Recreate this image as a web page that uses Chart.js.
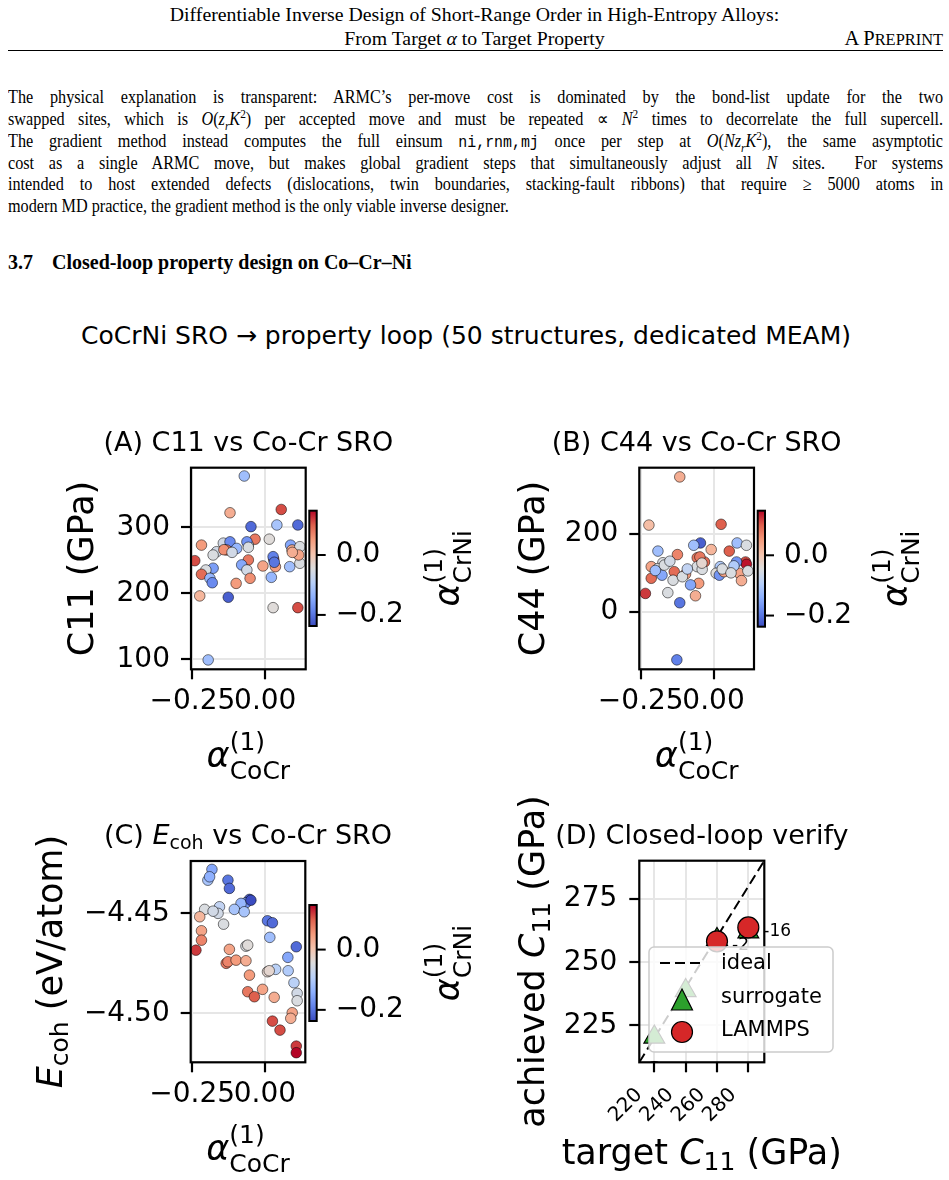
<!DOCTYPE html>
<html lang="en">
<head>
<meta charset="UTF-8">
<title>CoCrNi SRO property loop</title>
<script src="https://cdn.jsdelivr.net/npm/chart.js"></script>
<style>
  body { margin: 0; background: #fff; width: 949px; height: 1180px; position: relative; overflow: hidden; }
  .txt { position: absolute; font-family: "Liberation Serif", "Times New Roman", serif; font-size: 17.5px; line-height: 22px; white-space: pre; color: #000; }
  .txt sub, .txt sup { font-size: 0.7em; line-height: 0; }
  .body { font-size: 18px; transform: scaleX(0.9); transform-origin: 0 0; }
  .head { font-size: 19.8px; }
  .mono { font-family: "Liberation Mono", monospace; font-size: 0.92em; }
  .fig { position: absolute; font-family: "DejaVu Sans", sans-serif; color: #000; white-space: pre; }
  canvas { position: absolute; }
</style>
</head>
<body>

<div class="txt head" style="left:0;width:949px;text-align:center;top:3px">Differentiable Inverse Design of Short-Range Order in High-Entropy Alloys:</div>
<div class="txt head" style="left:0;width:949px;text-align:center;top:27px">From Target <i>α</i> to Target Property</div>
<div class="txt" style="right:6px;top:27px;font-size:20.5px">A P<span style="font-size:0.8em">REPRINT</span></div>
<div style="position:absolute;left:8px;width:935px;top:50px;height:1px;background:#000"></div>

<div class="txt body just" style="left:8px;top:86px">The physical explanation is transparent: ARMC’s per-move cost is dominated by the bond-list update for the two</div>
<div class="txt body just" style="left:8px;top:108px">swapped sites, which is <i>O</i>(<i>z</i><sub><i>r</i></sub><i>K</i><sup>2</sup>) per accepted move and must be repeated ∝ <i>N</i><sup>2</sup> times to decorrelate the full supercell.</div>
<div class="txt body just" style="left:8px;top:130px">The gradient method instead computes the full einsum <span class="mono">ni,rnm,mj</span> once per step at <i>O</i>(<i>Nz</i><sub><i>r</i></sub><i>K</i><sup>2</sup>), the same asymptotic</div>
<div class="txt body just" style="left:8px;top:152px">cost as a single ARMC move, but makes global gradient steps that simultaneously adjust all <i>N</i> sites.  For systems</div>
<div class="txt body just" style="left:8px;top:173px">intended to host extended defects (dislocations, twin boundaries, stacking-fault ribbons) that require ≥ 5000 atoms in</div>
<div class="txt body" style="left:8px;top:195px">modern MD practice, the gradient method is the only viable inverse designer.</div>

<div class="txt" style="left:8px;top:251px;font-weight:bold;font-size:20px">3.7</div>
<div class="txt" style="left:52px;top:251px;font-weight:bold;font-size:20px">Closed-loop property design on Co–Cr–Ni</div>

<div class="fig" style="left:0;width:932px;text-align:center;top:321px;font-size:25px;line-height:30px">CoCrNi SRO → property loop (50 structures, dedicated MEAM)</div>

<canvas id="cA"></canvas>
<canvas id="cB"></canvas>
<canvas id="cC"></canvas>
<canvas id="cD"></canvas>

<script>
    // justify the (horizontally condensed) paragraph lines to the text block width
    const squeeze = 0.9;
    document.querySelectorAll('.just').forEach(el => {
        const w = el.getBoundingClientRect().width;
        const spaces = (el.textContent.match(/ /g) || []).length;
        el.style.wordSpacing = ((935 - w) / squeeze / spaces) + 'px';
    });

    // ---- data ----
    // (A) C11 vs alpha_CoCr, colour = alpha_CrNi
    const alphaCoCrA = [-0.072, -0.121, 0.055, 0.040, 0.112, -0.049, -0.035, 0.014, -0.219, -0.144,
        -0.121, -0.098, -0.133, -0.167, -0.179, -0.058, -0.063, 0.087, 0.092, 0.110,
        0.119, -0.242, 0.029, 0.027, -0.058, -0.081, -0.063, -0.008, 0.035, 0.084,
        0.119, -0.179, -0.204, -0.219, -0.190, -0.182, -0.100, -0.052, 0.021, -0.225,
        -0.127, 0.027, 0.112, -0.196, 0.115, -0.058, -0.142, 0.093, 0.031, -0.114];
    const c11A = [377.7, 322, 327, 303.5, 303.5, 301, 282, 282, 273, 276,
        278, 268, 265.6, 263, 258, 273, 278, 273, 265.6, 260.6,
        270.6, 249.4, 251.5, 255.5, 250.5, 243, 235.3, 241.4, 240.3, 240.3,
        245.5, 238, 235.3, 228.8, 222.7, 216, 215, 222.7, 224.2, 196,
        194, 178.2, 178.2, 99, 258, 269.7, 266, 262, 247, 262];
    const alphaCrNiA = [-0.12, 0.03, 0.11, -0.11, -0.21, -0.21, 0.08, -0.04, 0.05, -0.06,
        -0.18, -0.13, 0.08, -0.06, -0.05, -0.06, -0.17, -0.15, 0.03, 0.13,
        -0.05, 0.11, 0.10, -0.19, 0.08, -0.15, -0.06, 0.04, 0.05, -0.12,
        -0.05, -0.16, -0.05, 0.09, -0.13, -0.18, 0.05, 0.06, -0.13, 0.02,
        -0.22, -0.04, 0.11, -0.12, 0.04, -0.05, 0.06, 0.03, -0.20, -0.06];

    // (B) C44 vs alpha_CoCr
    const alphaCoCrB = [-0.116, -0.222, 0.026, -0.191, -0.045, -0.068, -0.008, 0.054, 0.081, 0.113,
        -0.124, -0.056, -0.031, -0.174, -0.214, -0.191, 0.110, 0.113, 0.079, 0.023,
        -0.056, -0.214, -0.177, -0.135, -0.096, -0.139, -0.051, -0.079, -0.062, -0.157,
        -0.234, -0.116, -0.126, 0.009, 0.020, 0.036, 0.088, 0.096, 0.118, -0.039,
        -0.047, -0.169, -0.107, 0.030, -0.200, -0.090, 0.070, -0.040, 0.060, -0.150];
    const c44B = [347, 223, 225, 156, 177, 171, 160, 156, 177, 171,
        147, 139, 128, 126, 116, 111, 128, 122, 128, 116,
        116, 86, 94, 103, 97, 81, 73, 69, 41, 49,
        47, 23, -124, 99, 94, 103, 99, 80, 105, 109,
        141, 120, 90, 110, 106, 110, 118, 125, 100, 130];
    const alphaCrNiB = [0.03, 0.01, 0.10, -0.12, -0.22, -0.12, 0.02, 0.10, -0.12, -0.05,
        0.07, 0.08, 0.09, -0.05, 0.04, -0.05, 0.11, 0.14, -0.17, -0.10,
        -0.05, 0.09, -0.15, 0.09, 0.05, -0.05, 0.05, -0.15, 0.03, -0.05,
        0.12, -0.20, -0.19, -0.04, -0.17, 0.04, 0.04, 0.03, -0.05, -0.05,
        0.08, -0.05, -0.05, -0.05, -0.12, -0.08, -0.10, -0.03, -0.05, -0.06];

    // (C) E_coh vs alpha_CoCr
    const alphaCoCrC = [-0.182, -0.196, -0.190, -0.127, -0.122, -0.053, -0.065, -0.082, -0.105, -0.071,
        -0.207, -0.156, -0.161, -0.142, -0.224, 0.009, 0.026, 0.017, 0.108, -0.218,
        -0.218, -0.237, -0.065, -0.059, -0.122, -0.133, -0.127, -0.099, -0.065, -0.053,
        0.009, 0.037, 0.079, 0.080, 0.100, 0.111, 0.111, -0.059, -0.036, -0.008,
        0.032, 0.094, 0.089, 0.026, 0.052, 0.108, 0.108, -0.178, -0.048, 0.015];
    const ecohC = [-4.4280, -4.4334, -4.4317, -4.4334, -4.4375, -4.4430, -4.4447, -4.4450, -4.4480, -4.4492,
        -4.4480, -4.4467, -4.4500, -4.4554, -4.4517, -4.4537, -4.4547, -4.4620, -4.4667, -4.4587,
        -4.4634, -4.4684, -4.4664, -4.4659, -4.4680, -4.4750, -4.4742, -4.4734, -4.4737, -4.4809,
        -4.4792, -4.4780, -4.4720, -4.4787, -4.4847, -4.4900, -4.4937, -4.4892, -4.4917, -4.4880,
        -4.4920, -4.4997, -4.5025, -4.5039, -4.5084, -4.5164, -4.5197, -4.4489, -4.4434, -4.4787];
    const alphaCrNiC = [-0.15, -0.11, -0.14, -0.20, -0.21, -0.22, -0.17, -0.13, -0.11, -0.11,
        -0.05, -0.08, -0.06, -0.05, 0.02, -0.20, -0.21, -0.12, -0.21, 0.04,
        0.07, 0.12, -0.05, -0.04, 0.04, 0.08, 0.07, 0.05, 0.03, 0.05,
        -0.03, -0.09, -0.15, -0.10, -0.09, -0.06, -0.05, 0.08, 0.10, 0.04,
        0.03, 0.04, 0.03, 0.11, 0.11, 0.12, 0.148, -0.06, -0.237, -0.03];

    // (D) closed-loop verification
    const targetD = [220, 240, 260, 280];
    const surrogateD = [220.4, 238.8, 259, 262];
    const lammpsD = [206.5, 195, 258.3, 263.8];

    // axes
    const xLimSRO = [-0.255, 0.139];
    const xTicksSRO = [-0.25, 0];
    const yLimA = [84.8, 390.3], yTicksA = [100, 200, 300];
    const yLimB = [-148.3, 370.7], yTicksB = [0, 200];
    const yLimC = [-4.5245, -4.4238], yTicksC = [-4.50, -4.45];
    const limD = [210.4, 290.2];
    const ticksDx = [220, 240, 260, 280], ticksDy = [225, 250, 275];
    const cbarRange = [-0.237, 0.148], cbarTicks = [-0.2, 0.0];

    const coolwarmStops = [[59, 76, 192], [98, 130, 234], [141, 176, 254], [184, 208, 249], [221, 221, 221],
        [245, 196, 173], [244, 154, 123], [222, 96, 77], [180, 4, 38]];

    function coolwarm(v) {
        let t = (v - cbarRange[0]) / (cbarRange[1] - cbarRange[0]);
        t = Math.min(1, Math.max(0, t)) * (coolwarmStops.length - 1);
        const i = Math.min(Math.floor(t), coolwarmStops.length - 2), f = t - i;
        const a = coolwarmStops[i], b = coolwarmStops[i + 1];
        return 'rgb(' + a.map((c, k) => Math.round(c + (b[k] - c) * f)).join(',') + ')';
    }

    function signed(v, d) {
        return (v < 0 ? '\u2212' : '') + Math.abs(v).toFixed(d);
    }

    const FONT = '"DejaVu Sans"';

    // parts: [text, size, italic, dy, sameStartAsPrevious]
    function drawRich(ctx, parts, cx, by) {
        let x = 0, prev = 0;
        const items = [];
        parts.forEach(([s, size, it, dy, same]) => {
            ctx.font = (it ? 'italic ' : '') + size + 'px ' + FONT;
            const start = same ? prev : x;
            items.push([s, ctx.font, start, dy || 0]);
            x = Math.max(x, start + ctx.measureText(s).width);
            prev = start;
        });
        ctx.textAlign = 'left';
        ctx.textBaseline = 'alphabetic';
        ctx.fillStyle = '#000';
        items.forEach(([s, font, start, dy]) => {
            ctx.font = font;
            ctx.fillText(s, cx - x / 2 + start, by + dy);
        });
    }

    function drawRot(ctx, parts, x, y) {
        ctx.save();
        ctx.translate(x, y);
        ctx.rotate(-Math.PI / 2);
        drawRich(ctx, parts, 0, 0);
        ctx.restore();
    }

    const alphaParts = sub => [['α', 35, true, 0], ['(1)', 25, false, -17], [sub, 25, false, 12, true]];

    function drawColorbar(ctx, cb, ox, oy) {
        const l = cb[0] - ox, t = cb[1] - oy, r = cb[2] - ox, b = cb[3] - oy;
        const g = ctx.createLinearGradient(0, b, 0, t);
        coolwarmStops.forEach((c, i) => g.addColorStop(i / (coolwarmStops.length - 1), 'rgb(' + c.join(',') + ')'));
        ctx.fillStyle = g;
        ctx.fillRect(l, t, r - l, b - t);
        ctx.strokeStyle = '#000';
        ctx.lineWidth = 2;
        ctx.strokeRect(l, t, r - l, b - t);
        ctx.font = '28px ' + FONT;
        ctx.textAlign = 'left';
        ctx.textBaseline = 'middle';
        ctx.fillStyle = '#000';
        cbarTicks.forEach(v => {
            const y = b - (v - cbarRange[0]) / (cbarRange[1] - cbarRange[0]) * (b - t);
            ctx.beginPath();
            ctx.moveTo(r, y);
            ctx.lineTo(r + 9, y);
            ctx.stroke();
            ctx.fillText(signed(v, 1), r + 19, y);
        });
        drawRot(ctx, alphaParts('CrNi'), r + 142, (t + b) / 2);
    }

    const YW = 130, XH = 60;

    function axis(lim, ticks, fmt, size, fit, pad, rot, shift) {
        return {
            type: 'linear', min: lim[0], max: lim[1],
            afterBuildTicks: s => { s.ticks = ticks.map(v => ({ value: v })); },
            afterFit: fit,
            border: { display: false },
            grid: { color: '#e6e6e6', lineWidth: 2, tickColor: '#000', tickWidth: 2.2, tickLength: 10 },
            ticks: {
                autoSkip: false, color: '#000', padding: pad, labelOffset: shift || 0,
                font: { size: size, family: FONT },
                minRotation: rot || 0, maxRotation: rot || 0,
                callback: v => fmt(v)
            }
        };
    }

    function makeChart(p) {
        const cv = document.getElementById(p.id);
        cv.width = p.box.w;
        cv.height = p.box.h;
        cv.style.left = p.box.left + 'px';
        cv.style.top = p.box.top + 'px';
        const pad = {
            left: p.area[0] - p.box.left - YW,
            top: p.area[1] - p.box.top,
            right: p.box.left + p.box.w - p.area[2],
            bottom: p.box.top + p.box.h - p.area[3] - XH
        };
        return new Chart(cv, {
            type: 'scatter',
            data: { datasets: p.datasets },
            options: {
                responsive: false, animation: false, devicePixelRatio: 1, events: [],
                layout: { padding: pad },
                plugins: { legend: { display: false }, tooltip: { enabled: false } },
                scales: { x: p.x, y: p.y }
            },
            plugins: [{ id: 'deco', afterDraw: c => p.deco(c) }]
        });
    }

    function sroSet(xs, ys, cs) {
        return [{
            data: xs.map((x, i) => ({ x: x, y: ys[i] })),
            backgroundColor: cs.map(coolwarm),
            borderColor: 'rgba(0,0,0,0.65)', borderWidth: 0.8,
            pointRadius: 5.3, clip: 0
        }];
    }

    function sroDeco(p) {
        return chart => {
            const ctx = chart.ctx, a = chart.chartArea, ox = p.box.left, oy = p.box.top;
            ctx.save();
            ctx.strokeStyle = '#000';
            ctx.lineWidth = 2.2;
            ctx.strokeRect(a.left, a.top, a.right - a.left, a.bottom - a.top);
            const cx = (a.left + a.right) / 2;
            drawRich(ctx, p.title, cx, p.titleY - oy);
            drawRich(ctx, alphaParts('CoCr'), cx, a.bottom + 98);
            drawRot(ctx, p.ylabel, p.ylabelX - ox, (a.top + a.bottom) / 2);
            drawColorbar(ctx, p.cb, ox, oy);
            ctx.restore();
        };
    }

    const fitY = s => { s.width = YW; };
    const fitX = s => { s.height = XH; };
    const fmtX = v => signed(v, 2);
    const fmtInt = v => signed(v, 0);

    const panels = [
        {
            id: 'cA', box: { left: 0, top: 400, w: 474, h: 400 }, area: [191, 467.7, 305.7, 669.3],
            datasets: sroSet(alphaCoCrA, c11A, alphaCrNiA),
            x: axis(xLimSRO, xTicksSRO, fmtX, 28, fitX, 6),
            y: axis(yLimA, yTicksA, fmtInt, 28, fitY, 11),
            title: [['(A) C11 vs Co-Cr SRO', 27]], titleY: 451,
            ylabel: [['C11 (GPa)', 35]], ylabelX: 93,
            cb: [309.3, 510.7, 316.7, 626]
        },
        {
            id: 'cB', box: { left: 474, top: 400, w: 475, h: 400 }, area: [639.3, 467.7, 754, 669.3],
            datasets: sroSet(alphaCoCrB, c44B, alphaCrNiB),
            x: axis(xLimSRO, xTicksSRO, fmtX, 28, fitX, 6),
            y: axis(yLimB, yTicksB, fmtInt, 28, fitY, 11),
            title: [['(B) C44 vs Co-Cr SRO', 27]], titleY: 451,
            ylabel: [['C44 (GPa)', 35]], ylabelX: 543.5,
            cb: [757.7, 510.7, 765, 626.7]
        },
        {
            id: 'cC', box: { left: 0, top: 800, w: 474, h: 380 }, area: [190.7, 861, 305.3, 1062.3],
            datasets: sroSet(alphaCoCrC, ecohC, alphaCrNiC),
            x: axis(xLimSRO, xTicksSRO, fmtX, 28, fitX, 6),
            y: axis(yLimC, yTicksC, fmtX, 28, fitY, 11),
            title: [['(C) ', 27], ['E', 27, true], ['coh', 19, false, 5], [' vs Co-Cr SRO', 27]], titleY: 843.5,
            ylabel: [['E', 35, true], ['coh', 25, false, 6], [' (eV/atom)', 35]], ylabelX: 61.7,
            cb: [309.3, 905, 316.7, 1021]
        }
    ];
    panels.forEach(p => { p.deco = sroDeco(p); makeChart(p); });

    // ---- panel D ----
    const boxD = { left: 474, top: 780, w: 475, h: 400 };

    function decoD(chart) {
        const ctx = chart.ctx, a = chart.chartArea, xs = chart.scales.x, ys = chart.scales.y;
        const ox = boxD.left, oy = boxD.top;
        ctx.save();
        ctx.strokeStyle = '#000';
        ctx.lineWidth = 2.2;
        ctx.strokeRect(a.left, a.top, a.right - a.left, a.bottom - a.top);
        const cx = (a.left + a.right) / 2;
        drawRich(ctx, [['(D) Closed-loop verify', 27]], cx, 843.5 - oy);
        drawRich(ctx, [['target ', 35], ['C', 35, true], ['11', 25, false, 6], [' (GPa)', 35]], cx, 1164 - oy);
        drawRot(ctx, [['achieved ', 35], ['C', 35, true], ['11', 25, false, 6], [' (GPa)', 35]], 543.5 - ox, (a.top + a.bottom) / 2);

        // error labels next to the LAMMPS points
        ctx.font = '17px ' + FONT;
        ctx.textAlign = 'left';
        ctx.textBaseline = 'middle';
        ctx.fillStyle = '#000';
        targetD.forEach((t, i) => {
            const v = lammpsD[i];
            if (v < ys.min || v > ys.max) return;
            ctx.fillText(String(Math.round(v - t)), xs.getPixelForValue(t) + 15, ys.getPixelForValue(v) + 4);
        });

        // legend
        const l = 649 - ox, t = 947 - oy, r = 833 - ox, b = 1052 - oy, rad = 5;
        ctx.beginPath();
        ctx.moveTo(l + rad, t);
        ctx.arcTo(r, t, r, b, rad);
        ctx.arcTo(r, b, l, b, rad);
        ctx.arcTo(l, b, l, t, rad);
        ctx.arcTo(l, t, r, t, rad);
        ctx.closePath();
        ctx.fillStyle = 'rgba(255,255,255,0.8)';
        ctx.fill();
        ctx.strokeStyle = '#cccccc';
        ctx.lineWidth = 1.5;
        ctx.stroke();

        const mx = 682 - ox, tx = 721 - ox;
        ctx.strokeStyle = '#000';
        ctx.lineWidth = 2;
        ctx.setLineDash([10, 5]);
        ctx.beginPath();
        ctx.moveTo(660 - ox, 963 - oy);
        ctx.lineTo(700 - ox, 963 - oy);
        ctx.stroke();
        ctx.setLineDash([]);

        ctx.lineWidth = 1.2;
        ctx.beginPath();
        ctx.moveTo(mx, 989 - oy);
        ctx.lineTo(mx + 10.5, 1010 - oy);
        ctx.lineTo(mx - 10.5, 1010 - oy);
        ctx.closePath();
        ctx.fillStyle = '#2ca02c';
        ctx.fill();
        ctx.stroke();

        ctx.beginPath();
        ctx.arc(mx, 1032 - oy, 10.5, 0, Math.PI * 2);
        ctx.fillStyle = '#d62728';
        ctx.fill();
        ctx.stroke();

        ctx.font = '21px ' + FONT;
        ctx.fillStyle = '#000';
        ctx.textBaseline = 'middle';
        ctx.fillText('ideal', tx, 964 - oy);
        ctx.fillText('surrogate', tx, 998 - oy);
        ctx.fillText('LAMMPS', tx, 1031 - oy);
        ctx.restore();
    }

    makeChart({
        id: 'cD', box: boxD, area: [639.3, 860.7, 764.3, 1062.3],
        datasets: [
            {
                data: targetD.map((t, i) => ({ x: t, y: lammpsD[i] })),
                backgroundColor: '#d62728', borderColor: '#000', borderWidth: 1.2,
                pointRadius: 10.5, clip: 0, order: 1
            },
            {
                data: targetD.map((t, i) => ({ x: t, y: surrogateD[i] })),
                pointStyle: 'triangle', backgroundColor: '#2ca02c', borderColor: '#000', borderWidth: 1.2,
                pointRadius: 12, clip: 0, order: 2
            },
            {
                data: limD.map(v => ({ x: v, y: v })), showLine: true,
                borderColor: '#000', borderWidth: 2, borderDash: [10, 5],
                pointRadius: 0, clip: 0, order: 3
            }
        ],
        x: axis(limD, ticksDx, fmtInt, 20, fitX, 11, 45, -15),
        y: axis(limD, ticksDy, fmtInt, 28, fitY, 12),
        deco: decoD
    });
</script>
</body>
</html>
